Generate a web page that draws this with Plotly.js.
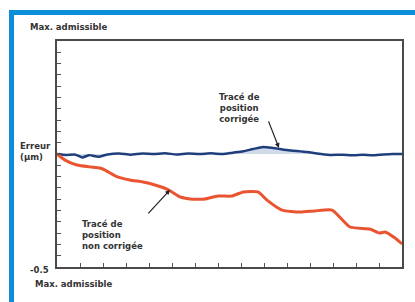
<!DOCTYPE html>
<html><head><meta charset="utf-8">
<script src="https://cdn.plot.ly/plotly-3.0.1.min.js"></script>
<style>html,body{margin:0;padding:0;background:#fff;}#c{width:415px;height:302px;}</style>
</head><body><div id="c"></div>
<script>
// Uncorrected position trace (red)
const redX = [0, 0.35, 0.87, 1.43, 1.87, 2.09, 2.6, 3.17, 3.74, 4.26, 4.78, 5.0, 5.35, 5.78, 6.2, 6.43, 7.0, 7.6, 8.1, 8.74, 9.13, 9.78, 10.57, 11.2, 11.96, 12.74, 13.6, 14.04, 14.26, 14.7, 15];
const redY = [0, -0.027, -0.049, -0.057, -0.062, -0.071, -0.10, -0.115, -0.124, -0.137, -0.155, -0.168, -0.19, -0.199, -0.2, -0.199, -0.186, -0.186, -0.168, -0.168, -0.204, -0.248, -0.257, -0.252, -0.248, -0.323, -0.332, -0.35, -0.345, -0.372, -0.398];
// Corrected position trace (blue)
const blueX = [0, 0.4, 0.8, 1.1, 1.4, 1.8, 2.2, 2.7, 3.2, 3.7, 4.2, 4.7, 5.2, 5.7, 6.2, 6.7, 7.2, 7.65, 8.1, 8.52, 8.96, 9.39, 10.0, 10.87, 11.3, 11.87, 12.4, 12.9, 13.3, 13.7, 14.2, 14.6, 15];
const blueY = [0, -0.004, -0.003, -0.015, -0.005, -0.012, -0.002, 0.002, -0.003, 0.002, 0.0, 0.003, -0.002, 0.002, 0.0, 0.003, 0.0, 0.006, 0.012, 0.022, 0.031, 0.027, 0.018, 0.009, 0.002, -0.004, -0.003, -0.006, -0.003, -0.006, -0.002, 0.0, 0.0];

const F = 'DejaVu Sans, sans-serif';
const txt = () => ({family: F, size: 8.5, color: '#333', weight: 700});

const traces = [
  {x: blueX, y: blueY, mode: 'lines', fill: 'tozeroy', fillcolor: 'rgba(150,172,205,0.45)',
   line: {color: '#1e3f7c', width: 2.5, shape: 'spline', smoothing: 0.6}, hoverinfo: 'skip'},
  {x: redX, y: redY, mode: 'lines',
   line: {color: '#ea5430', width: 3, shape: 'spline', smoothing: 0.5}, hoverinfo: 'skip'}
];

const layout = {
  width: 415, height: 302,
  margin: {l: 57, r: 13, t: 41, b: 35},
  paper_bgcolor: '#fff', plot_bgcolor: '#fff',
  showlegend: false,
  xaxis: {range: [0, 15], dtick: 1, tick0: 0, ticks: 'inside', ticklen: 4, tickwidth: 1, tickcolor: '#555',
          showticklabels: false, showgrid: false, zeroline: false,
          showline: true, mirror: true, linecolor: '#4a4a4a', linewidth: 2},
  yaxis: {range: [-0.5, 0.5], dtick: 0.05, tick0: 0, ticks: 'inside', ticklen: 4, tickwidth: 1, tickcolor: '#555',
          showticklabels: false, showgrid: false, zeroline: false,
          showline: true, mirror: true, linecolor: '#4a4a4a', linewidth: 2},
  shapes: [
    {type: 'rect', xref: 'paper', yref: 'paper', x0: -0.1391, x1: -0.1246, y0: -0.2, y1: 1.137,
     fillcolor: '#0a8fd8', line: {width: 0}},
    {type: 'rect', xref: 'paper', yref: 'paper', x0: -0.1391, x1: 1.1, y0: 1.115, y1: 1.137,
     fillcolor: '#0a8fd8', line: {width: 0}}
  ],
  annotations: [
    {xref: 'paper', yref: 'paper', x: -0.084, y: 1.062, xanchor: 'left', yanchor: 'middle',
     text: 'Max. admissible', showarrow: false, font: txt()},
    {xref: 'paper', yref: 'paper', x: -0.07, y: -0.075, xanchor: 'left', yanchor: 'middle',
     text: 'Max. admissible', showarrow: false, font: txt()},
    {xref: 'paper', yref: 'paper', x: -0.018, y: -0.013, xanchor: 'right', yanchor: 'middle',
     text: '-0.5', showarrow: false, font: txt()},
    {xref: 'paper', yref: 'paper', x: -0.112, y: 0.535, xanchor: 'left', yanchor: 'middle',
     text: 'Erreur', showarrow: false, font: txt()},
    {xref: 'paper', yref: 'paper', x: -0.112, y: 0.487, xanchor: 'left', yanchor: 'middle',
     text: '(µm)', showarrow: false, font: txt()},
    {x: 9.65, y: 0.027, xref: 'x', yref: 'y', ax: -11, ay: -28,
     showarrow: true, arrowhead: 2, arrowsize: 0.8, arrowwidth: 1.2, arrowcolor: '#222', text: ''},
    {x: 4.91, y: -0.159, xref: 'x', yref: 'y', ax: -23, ay: 25,
     showarrow: true, arrowhead: 2, arrowsize: 0.8, arrowwidth: 1.2, arrowcolor: '#222', text: ''},
    {xref: 'paper', yref: 'paper', x: 0.53, y: 0.704, xanchor: 'center', yanchor: 'middle', align: 'center',
     text: 'Tracé de<br>position<br>corrigée', showarrow: false, font: txt()},
    {xref: 'paper', yref: 'paper', x: 0.066, y: 0.142, xanchor: 'left', yanchor: 'middle', align: 'left',
     text: 'Tracé de<br>position<br>non corrigée', showarrow: false, font: txt()}
  ]
};
Plotly.newPlot('c', traces, layout, {staticPlot: true, displayModeBar: false});
</script></body></html>
